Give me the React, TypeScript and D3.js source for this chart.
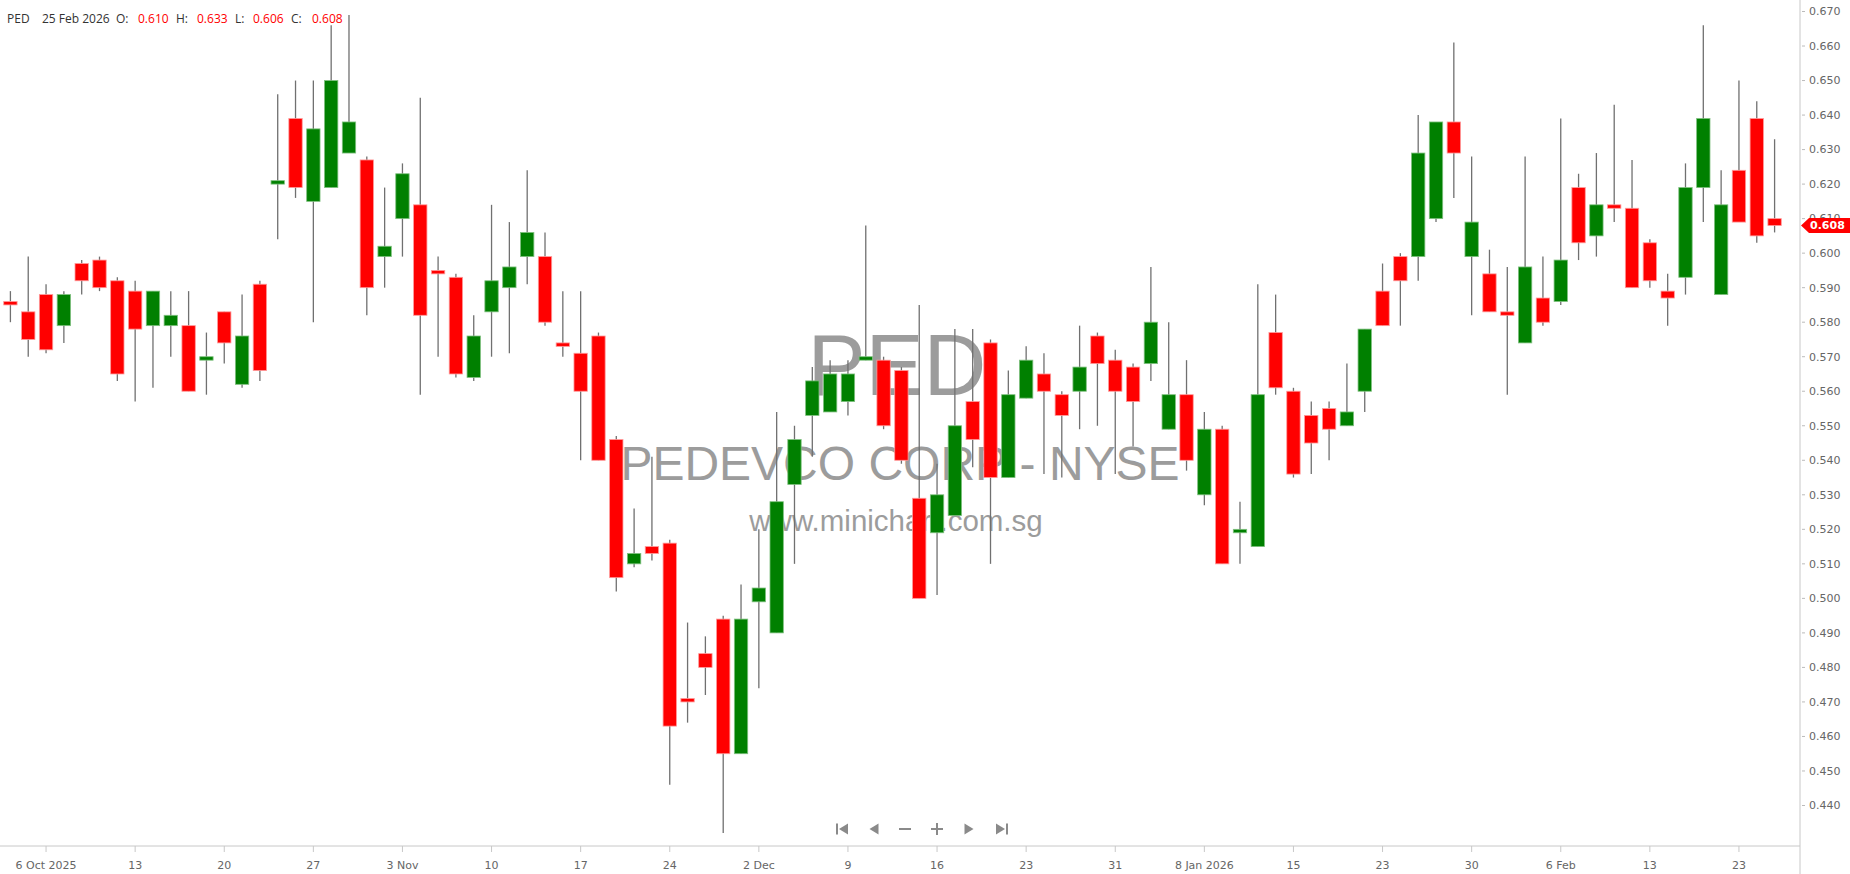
import * as d3 from "d3";

// trading days shown on the chart
const DATES = [
  "2025-10-02", "2025-10-03", "2025-10-06", "2025-10-07", "2025-10-08", "2025-10-09", "2025-10-10",
  "2025-10-13", "2025-10-14", "2025-10-15", "2025-10-16", "2025-10-17",
  "2025-10-20", "2025-10-21", "2025-10-22", "2025-10-23", "2025-10-24",
  "2025-10-27", "2025-10-28", "2025-10-29", "2025-10-30", "2025-10-31",
  "2025-11-03", "2025-11-04", "2025-11-05", "2025-11-06", "2025-11-07",
  "2025-11-10", "2025-11-11", "2025-11-12", "2025-11-13", "2025-11-14",
  "2025-11-17", "2025-11-18", "2025-11-19", "2025-11-20", "2025-11-21",
  "2025-11-24", "2025-11-25", "2025-11-26", "2025-11-28", "2025-12-01",
  "2025-12-02", "2025-12-03", "2025-12-04", "2025-12-05", "2025-12-08",
  "2025-12-09", "2025-12-10", "2025-12-11", "2025-12-12", "2025-12-15",
  "2025-12-16", "2025-12-17", "2025-12-18", "2025-12-19", "2025-12-22",
  "2025-12-23", "2025-12-24", "2025-12-26", "2025-12-29", "2025-12-30",
  "2025-12-31", "2026-01-02", "2026-01-05", "2026-01-06", "2026-01-07",
  "2026-01-08", "2026-01-09", "2026-01-12", "2026-01-13", "2026-01-14",
  "2026-01-15", "2026-01-16", "2026-01-20", "2026-01-21", "2026-01-22",
  "2026-01-23", "2026-01-26", "2026-01-27", "2026-01-28", "2026-01-29",
  "2026-01-30", "2026-02-02", "2026-02-03", "2026-02-04", "2026-02-05",
  "2026-02-06", "2026-02-09", "2026-02-10", "2026-02-11", "2026-02-12",
  "2026-02-13", "2026-02-17", "2026-02-18", "2026-02-19", "2026-02-20",
  "2026-02-23", "2026-02-24", "2026-02-25",
];

const OPEN = [
  0.586, 0.583, 0.588, 0.579, 0.597, 0.598, 0.592, 0.589, 0.579, 0.579,
  0.579, 0.569, 0.583, 0.562, 0.591, 0.620, 0.639, 0.615, 0.619, 0.629,
  0.627, 0.599, 0.610, 0.614, 0.595, 0.593, 0.564, 0.583, 0.590, 0.599,
  0.599, 0.574, 0.571, 0.576, 0.546, 0.510, 0.515, 0.516, 0.471, 0.484,
  0.494, 0.455, 0.499, 0.490, 0.533, 0.553, 0.554, 0.557, 0.569, 0.569,
  0.566, 0.529, 0.519, 0.524, 0.557, 0.574, 0.535, 0.558, 0.565, 0.559,
  0.560, 0.576, 0.569, 0.567, 0.568, 0.549, 0.559, 0.530, 0.549, 0.519,
  0.515, 0.577, 0.560, 0.553, 0.555, 0.550, 0.560, 0.589, 0.599, 0.599,
  0.610, 0.638, 0.599, 0.594, 0.583, 0.574, 0.587, 0.586, 0.619, 0.605,
  0.614, 0.613, 0.603, 0.589, 0.593, 0.619, 0.588, 0.624, 0.639, 0.610,
];

const HIGH = [
  0.589, 0.599, 0.591, 0.589, 0.598, 0.599, 0.593, 0.592, 0.589, 0.589,
  0.589, 0.577, 0.583, 0.588, 0.592, 0.646, 0.650, 0.650, 0.666, 0.669,
  0.628, 0.619, 0.626, 0.645, 0.599, 0.594, 0.582, 0.614, 0.609, 0.624,
  0.606, 0.589, 0.589, 0.577, 0.547, 0.526, 0.541, 0.517, 0.493, 0.489,
  0.495, 0.504, 0.520, 0.554, 0.550, 0.567, 0.569, 0.569, 0.608, 0.570,
  0.567, 0.585, 0.539, 0.578, 0.578, 0.575, 0.566, 0.573, 0.571, 0.560,
  0.579, 0.577, 0.572, 0.568, 0.596, 0.580, 0.569, 0.554, 0.550, 0.528,
  0.591, 0.588, 0.561, 0.557, 0.557, 0.568, 0.578, 0.597, 0.600, 0.640,
  0.638, 0.661, 0.628, 0.601, 0.596, 0.628, 0.599, 0.639, 0.623, 0.629,
  0.643, 0.627, 0.604, 0.594, 0.626, 0.666, 0.624, 0.650, 0.644, 0.633,
];

const LOW = [
  0.580, 0.570, 0.571, 0.574, 0.588, 0.589, 0.563, 0.557, 0.561, 0.570,
  0.560, 0.559, 0.568, 0.561, 0.563, 0.604, 0.616, 0.580, 0.619, 0.629,
  0.582, 0.590, 0.599, 0.559, 0.570, 0.564, 0.563, 0.570, 0.571, 0.591,
  0.579, 0.570, 0.540, 0.540, 0.502, 0.509, 0.511, 0.446, 0.464, 0.472,
  0.432, 0.455, 0.474, 0.490, 0.510, 0.541, 0.554, 0.553, 0.569, 0.549,
  0.539, 0.500, 0.501, 0.524, 0.538, 0.510, 0.535, 0.558, 0.536, 0.535,
  0.549, 0.550, 0.536, 0.544, 0.563, 0.549, 0.537, 0.527, 0.510, 0.510,
  0.515, 0.559, 0.535, 0.536, 0.540, 0.550, 0.554, 0.579, 0.579, 0.592,
  0.609, 0.616, 0.582, 0.583, 0.559, 0.574, 0.579, 0.585, 0.598, 0.599,
  0.609, 0.590, 0.590, 0.579, 0.588, 0.609, 0.588, 0.609, 0.603, 0.606,
];

const CLOSE = [
  0.585, 0.575, 0.572, 0.588, 0.592, 0.590, 0.565, 0.578, 0.589, 0.582,
  0.560, 0.570, 0.574, 0.576, 0.566, 0.621, 0.619, 0.636, 0.650, 0.638,
  0.590, 0.602, 0.623, 0.582, 0.594, 0.565, 0.576, 0.592, 0.596, 0.606,
  0.580, 0.573, 0.560, 0.540, 0.506, 0.513, 0.513, 0.463, 0.470, 0.480,
  0.455, 0.494, 0.503, 0.528, 0.546, 0.563, 0.565, 0.565, 0.570, 0.550,
  0.540, 0.500, 0.530, 0.550, 0.546, 0.535, 0.559, 0.569, 0.560, 0.553,
  0.567, 0.568, 0.560, 0.557, 0.580, 0.559, 0.540, 0.549, 0.510, 0.520,
  0.559, 0.561, 0.536, 0.545, 0.549, 0.554, 0.578, 0.579, 0.592, 0.629,
  0.638, 0.629, 0.609, 0.583, 0.582, 0.596, 0.580, 0.598, 0.603, 0.614,
  0.613, 0.590, 0.592, 0.587, 0.619, 0.639, 0.614, 0.609, 0.605, 0.608,
];

const PRICE_TICKS = [
  0.44, 0.45, 0.46, 0.47, 0.48, 0.49, 0.5, 0.51, 0.52, 0.53, 0.54, 0.55,
  0.56, 0.57, 0.58, 0.59, 0.6, 0.61, 0.62, 0.63, 0.64, 0.65, 0.66, 0.67,
];

const SYMBOL = "PED";
const COMPANY = "PEDEVCO CORP - NYSE";
const SITE = "www.minichart.com.sg";

const WIDTH = 1850;
const HEIGHT = 874;
const AXIS_X = 1800;
const AXIS_Y = 846;

const UP = "#008000";
const DOWN = "#ff0000";
const AXIS_FONT = "'DejaVu Sans', Verdana, sans-serif";

const parseDate = d3.timeParse("%Y-%m-%d");

const App = () => {
  const n = DATES.length;
  const dates = DATES.map((d) => parseDate(d) as Date);

  const xScale = d3
    .scaleBand<number>()
    .domain(d3.range(n))
    .range([1.5, 1783.5])
    .paddingInner(0.25)
    .paddingOuter(0.125);

  const yScale = d3.scaleLinear().domain([0.44, 0.67]).range([805.5, 11.5]);

  // week ticks every 5 bars, month name when the month changes
  const tickIdx = d3.range(2, n, 5);
  const tickLabels = tickIdx.map((i, k) => {
    const d = dates[i];
    if (k === 0) return d3.timeFormat("%-d %b %Y")(d);
    const prev = dates[tickIdx[k - 1]];
    if (prev.getFullYear() !== d.getFullYear()) return d3.timeFormat("%-d %b %Y")(d);
    if (prev.getMonth() !== d.getMonth()) return d3.timeFormat("%-d %b")(d);
    return d3.timeFormat("%-d")(d);
  });

  const bw = xScale.bandwidth();
  const last = n - 1;
  const lastY = yScale(CLOSE[last]);
  const lastDate = d3.timeFormat("%-d %b %Y")(dates[last]);

  const navY = 829;
  const navCol = "#8a8a8a";

  return (
    <div style={{ position: "absolute", left: 0, top: 0 }}>
      <style>{`body{margin:0;overflow:hidden;}`}</style>
      <svg width={WIDTH} height={HEIGHT} style={{ display: "block", background: "#fff" }}>
        {/* watermark */}
        <g fill="#9c9c9c" fontFamily="'Liberation Sans', Arial, sans-serif" textAnchor="middle">
          <text x={897} y={395} fontSize={87}>{SYMBOL}</text>
          <text x={900} y={480} fontSize={48}>{COMPANY}</text>
          <text x={896} y={531} fontSize={29.5}>{SITE}</text>
        </g>

        {/* candles */}
        <g>
          {DATES.map((_, i) => {
            const cx = (xScale(i) as number) + bw / 2;
            const up = CLOSE[i] >= OPEN[i];
            const top = yScale(Math.max(OPEN[i], CLOSE[i]));
            const bot = yScale(Math.min(OPEN[i], CLOSE[i]));
            const h = Math.max(bot - top, 2);
            return (
              <g key={i}>
                <line
                  x1={cx}
                  x2={cx}
                  y1={yScale(HIGH[i])}
                  y2={yScale(LOW[i])}
                  stroke="#707070"
                  strokeWidth={1.3}
                />
                <rect
                  x={xScale(i)}
                  y={top}
                  width={bw}
                  height={h}
                  fill={up ? UP : DOWN}
                  stroke={up ? "#7fc07f" : "#ff9a9a"}
                  strokeWidth={0.8}
                />
              </g>
            );
          })}
        </g>

        {/* price axis */}
        <line x1={AXIS_X} x2={AXIS_X} y1={0} y2={HEIGHT} stroke="#c8c8c8" />
        <g fontFamily={AXIS_FONT} fontSize={11} fill="#666">
          {PRICE_TICKS.map((t) => (
            <g key={t} transform={`translate(0,${yScale(t)})`}>
              <line x1={AXIS_X + 2} x2={AXIS_X + 5} stroke="#bbb" />
              <text x={AXIS_X + 9} dy="0.35em">{d3.format(".3f")(t)}</text>
            </g>
          ))}
        </g>

        {/* last price tag */}
        <path
          d={`M${AXIS_X + 1},${lastY} L${AXIS_X + 9},${lastY - 7.5} L${WIDTH},${lastY - 7.5} L${WIDTH},${lastY + 7.5} L${AXIS_X + 9},${lastY + 7.5} Z`}
          fill={DOWN}
        />
        <text
          x={AXIS_X + 10}
          y={lastY}
          dy="0.35em"
          fontFamily={AXIS_FONT}
          fontSize={11}
          fontWeight="bold"
          fill="#fff"
        >
          {d3.format(".3f")(CLOSE[last])}
        </text>

        {/* time axis */}
        <line x1={0} x2={AXIS_X} y1={AXIS_Y} y2={AXIS_Y} stroke="#c8c8c8" />
        <g fontFamily={AXIS_FONT} fontSize={11} fill="#666" textAnchor="middle">
          {tickIdx.map((i, k) => {
            const cx = (xScale(i) as number) + bw / 2;
            return (
              <g key={i} transform={`translate(${cx},0)`}>
                <line y1={AXIS_Y} y2={AXIS_Y + 6} stroke="#c8c8c8" />
                <text y={869}>{tickLabels[k]}</text>
              </g>
            );
          })}
        </g>

        {/* navigation buttons */}
        <g fill={navCol}>
          <g transform={`translate(842,${navY})`}>
            <rect x={-6} y={-5.5} width={2} height={11} />
            <path d="M6,-5.5 L6,5.5 L-3,0 Z" />
          </g>
          <g transform={`translate(874,${navY})`}>
            <path d="M4.5,-5.5 L4.5,5.5 L-4.5,0 Z" />
          </g>
          <g transform={`translate(905,${navY})`}>
            <rect x={-6} y={-1} width={12} height={2} />
          </g>
          <g transform={`translate(937,${navY})`}>
            <rect x={-6} y={-1} width={12} height={2} />
            <rect x={-1} y={-6} width={2} height={12} />
          </g>
          <g transform={`translate(969,${navY})`}>
            <path d="M-4.5,-5.5 L-4.5,5.5 L4.5,0 Z" />
          </g>
          <g transform={`translate(1002,${navY})`}>
            <path d="M-6,-5.5 L-6,5.5 L3,0 Z" />
            <rect x={4} y={-5.5} width={2} height={11} />
          </g>
        </g>

        {/* header */}
        <g fontFamily="'Open Sans', 'Noto Sans', sans-serif" fontSize={12} fill="#333">
          <text x={7} y={23}>{SYMBOL}</text>
          <text x={42} y={23}>{lastDate}</text>
          <text x={116} y={23}>O:</text>
          <text x={138} y={23} fill={DOWN}>{d3.format(".3f")(OPEN[last])}</text>
          <text x={176} y={23}>H:</text>
          <text x={197} y={23} fill={DOWN}>{d3.format(".3f")(HIGH[last])}</text>
          <text x={235} y={23}>L:</text>
          <text x={253} y={23} fill={DOWN}>{d3.format(".3f")(LOW[last])}</text>
          <text x={291} y={23}>C:</text>
          <text x={312} y={23} fill={DOWN}>{d3.format(".3f")(CLOSE[last])}</text>
        </g>
      </svg>
    </div>
  );
};

export default App;
